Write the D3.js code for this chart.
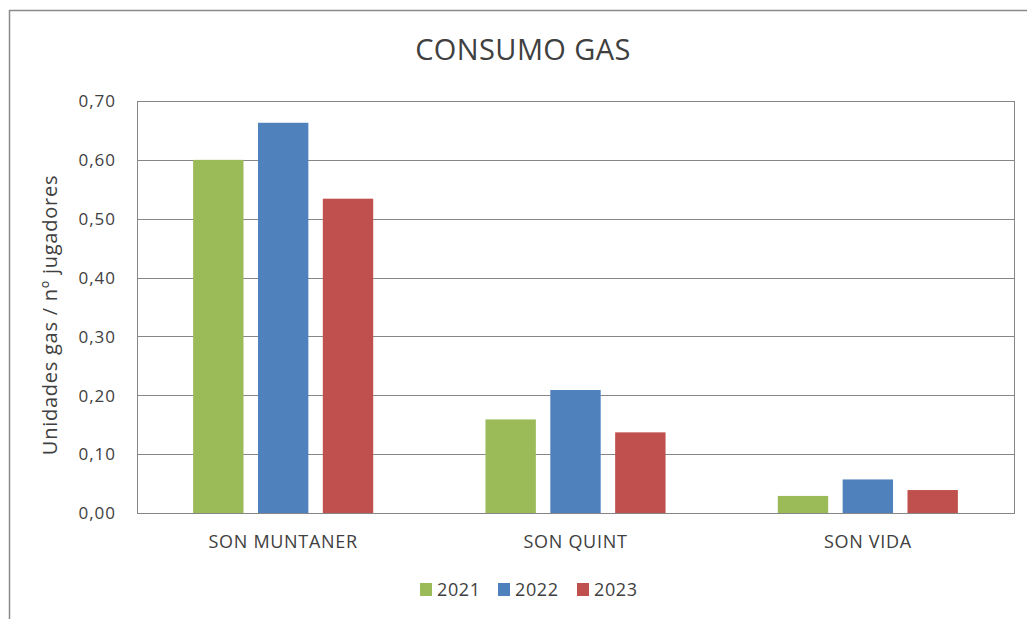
<!DOCTYPE html>
<html><head><meta charset="utf-8">
<script src="https://cdn.jsdelivr.net/npm/d3@7"></script>
<style>html,body{margin:0;padding:0;background:#fff;}svg{display:block;}</style>
</head><body>
<script>
const categories = ["SON MUNTANER", "SON QUINT", "SON VIDA"];
const seriesNames = ["2021", "2022", "2023"];
const values2021 = [0.600, 0.159, 0.029];
const values2022 = [0.663, 0.209, 0.057];
const values2023 = [0.534, 0.137, 0.039];
const yTicks = [0, 0.1, 0.2, 0.3, 0.4, 0.5, 0.6, 0.7];
const colors = ["#9BBB59", "#4F81BD", "#C0504D"];
const seriesValues = [values2021, values2022, values2023];

const W = 1027, H = 619;
const plot = {left: 137, top: 101, right: 1014, bottom: 513};
const font = "'Open Sans', 'DejaVu Sans', sans-serif";
const textColor = "#404040";
const gridColor = "#868686";

const svg = d3.select("body").append("svg").attr("width", W).attr("height", H);
svg.append("rect").attr("width", W).attr("height", H).attr("fill", "#fff");
// outer chart border (extends beyond right/bottom)
svg.append("rect").attr("x", 9.5).attr("y", 10.5).attr("width", W + 20).attr("height", H + 20)
  .attr("fill", "none").attr("stroke", "#8a8a8a").attr("stroke-width", 1.5);

const y = d3.scaleLinear().domain([0, 0.7]).range([plot.bottom, plot.top]);
const x0 = d3.scaleBand().domain(categories).range([plot.left, plot.right]).paddingInner(0.384).paddingOuter(0.192);
const x1 = d3.scaleBand().domain(seriesNames).range([0, x0.bandwidth()]).paddingInner(0.223).paddingOuter(0);

// gridlines
svg.append("g").selectAll("line").data(yTicks).join("line")
  .attr("x1", plot.left).attr("x2", plot.right)
  .attr("y1", d => Math.round(y(d)) + 0.5).attr("y2", d => Math.round(y(d)) + 0.5)
  .attr("stroke", gridColor).attr("stroke-width", 1);
// plot border
svg.append("rect").attr("x", plot.left + 0.5).attr("y", plot.top + 0.5)
  .attr("width", plot.right - plot.left).attr("height", plot.bottom - plot.top)
  .attr("fill", "none").attr("stroke", gridColor).attr("stroke-width", 1);

// bars
const rows = categories.map((c, i) => ({cat: c, vals: seriesNames.map((s, j) => ({s, j, v: seriesValues[j][i]}))}));
svg.append("g").selectAll("g").data(rows).join("g")
  .attr("transform", d => `translate(${x0(d.cat)},0)`)
  .selectAll("rect").data(d => d.vals).join("rect")
  .attr("x", d => x1(d.s)).attr("width", x1.bandwidth())
  .attr("y", d => y(d.v)).attr("height", d => y(0) - y(d.v))
  .attr("fill", d => colors[d.j]);

// y axis labels
const yAxis = d3.axisLeft(y).tickValues(yTicks).tickSize(0).tickPadding(21)
  .tickFormat(d => d3.format(".2f")(d).replace(".", ","));
const gy = svg.append("g").attr("transform", `translate(${plot.left},0)`).call(yAxis);
gy.select(".domain").remove();
gy.selectAll("text").attr("font-family", font).attr("font-size", 17).attr("letter-spacing", 1)
  .attr("fill", textColor).attr("dy", "0.34em");

// x axis labels
const xAxis = d3.axisBottom(x0).tickSize(0).tickPadding(0);
const gx = svg.append("g").attr("transform", `translate(0,${plot.bottom})`).call(xAxis);
gx.select(".domain").attr("stroke", gridColor);
gx.selectAll("text").attr("font-family", font).attr("font-size", 18).attr("letter-spacing", 0.7)
  .attr("fill", textColor).attr("y", 35).attr("dy", 0);

// title
svg.append("text").attr("x", 523).attr("y", 60).attr("text-anchor", "middle")
  .attr("font-family", font).attr("font-size", 29).attr("letter-spacing", 0.4)
  .attr("fill", textColor).text("CONSUMO GAS");

// y axis title
svg.append("text").attr("transform", "translate(57,315) rotate(-90)").attr("text-anchor", "middle")
  .attr("font-family", font).attr("font-size", 20).attr("letter-spacing", 0.75)
  .attr("fill", textColor).text("Unidades gas / nº jugadores");

// legend
const legendX = [420, 498, 577];
const lg = svg.append("g").selectAll("g").data(seriesNames).join("g")
  .attr("transform", (d, i) => `translate(${legendX[i]},583)`);
lg.append("rect").attr("width", 12).attr("height", 13).attr("fill", (d, i) => colors[i]);
lg.append("text").attr("x", 17).attr("y", 13).attr("font-family", font).attr("font-size", 18)
  .attr("letter-spacing", 0.6).attr("fill", textColor).text(d => d);
</script>
</body></html>
